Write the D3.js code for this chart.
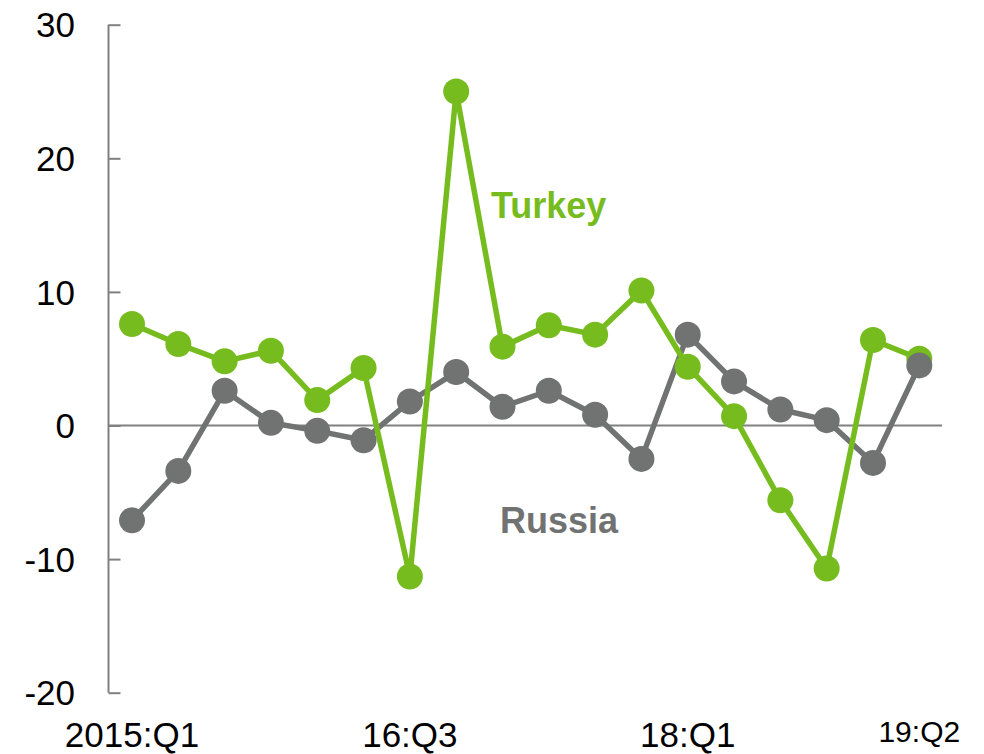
<!DOCTYPE html>
<html>
<head>
<meta charset="utf-8">
<script src="https://cdn.jsdelivr.net/npm/d3@7"></script>
<style>
  html, body { margin: 0; padding: 0; background: #fff; }
  svg { display: block; }
  text { font-family: "Liberation Sans", Arial, Helvetica, sans-serif; }
</style>
</head>
<body>
<svg id="chart" width="984" height="754"></svg>
<script>
// Quarterly series, 2015:Q1 to 2019:Q2
const quarters = [
  "2015:Q1","15:Q2","15:Q3","15:Q4",
  "16:Q1","16:Q2","16:Q3","16:Q4",
  "17:Q1","17:Q2","17:Q3","17:Q4",
  "18:Q1","18:Q2","18:Q3","18:Q4",
  "19:Q1","19:Q2"
];
const turkey = [7.6, 6.1, 4.8, 5.6, 1.9, 4.3, -11.3, 25.0, 5.9, 7.5, 6.8, 10.1, 4.4, 0.7, -5.6, -10.7, 6.4, 5.0];
const russia = [-7.1, -3.4, 2.6, 0.2, -0.4, -1.1, 1.8, 4.0, 1.4, 2.6, 0.8, -2.5, 6.8, 3.3, 1.2, 0.4, -2.8, 4.5];
const yTicks = [-20, -10, 0, 10, 20, 30];
const xLabels = ["2015:Q1", "16:Q3", "18:Q1", "19:Q2"];

const GREEN = "#77bc1f";
const GREY = "#717372";
const AXIS = "#808080";

const svg = d3.select("#chart");

const x = d3.scalePoint().domain(quarters).range([132, 919.3]);
const y = d3.scaleLinear().domain([-20, 30]).range([692.7, 24.7]);
const axisX = 108.5;

// Y axis with inward ticks
const yAxis = d3.axisRight(y).tickValues(yTicks).tickSize(12).tickFormat("");
const gy = svg.append("g").attr("transform", `translate(${axisX},0)`).call(yAxis);
gy.select(".domain").remove();
gy.selectAll(".tick line").attr("stroke", AXIS).attr("stroke-width", 2);
svg.append("line")
  .attr("x1", axisX).attr("x2", axisX)
  .attr("y1", y(30)).attr("y2", y(-20))
  .attr("stroke", AXIS).attr("stroke-width", 2);

// Y tick labels
svg.append("g").selectAll("text").data(yTicks).join("text")
  .attr("x", 75)
  .attr("y", d => y(d))
  .attr("dy", "0.36em")
  .attr("text-anchor", "end")
  .attr("font-size", 35)
  .attr("fill", "#000")
  .text(d => d);

// Zero line
svg.append("line")
  .attr("x1", axisX).attr("x2", 942)
  .attr("y1", y(0)).attr("y2", y(0))
  .attr("stroke", AXIS).attr("stroke-width", 2);

// X labels
svg.append("g").selectAll("text").data(xLabels).join("text")
  .attr("x", d => x(d))
  .attr("y", d => d === "19:Q2" ? 742 : 747)
  .attr("text-anchor", "middle")
  .attr("font-size", d => d === "19:Q2" ? 30 : 35)
  .attr("fill", "#000")
  .text(d => d);

const line = d3.line().x((d, i) => x(quarters[i])).y(d => y(d));

// Lines
svg.append("path").datum(russia).attr("d", line)
  .attr("fill", "none").attr("stroke", GREY).attr("stroke-width", 5.5).attr("stroke-linejoin", "round");
svg.append("path").datum(turkey).attr("d", line)
  .attr("fill", "none").attr("stroke", GREEN).attr("stroke-width", 5.5).attr("stroke-linejoin", "round");

// Markers
svg.append("g").selectAll("circle").data(turkey).join("circle")
  .attr("cx", (d, i) => x(quarters[i])).attr("cy", d => y(d)).attr("r", 13)
  .attr("fill", GREEN);
svg.append("g").selectAll("circle").data(russia).join("circle")
  .attr("cx", (d, i) => x(quarters[i])).attr("cy", d => y(d)).attr("r", 13)
  .attr("fill", GREY);

// Series labels
svg.append("text").attr("x", 491).attr("y", 217.5)
  .attr("font-size", 36).attr("font-weight", "bold").attr("fill", GREEN).text("Turkey");
svg.append("text").attr("x", 500).attr("y", 532.5)
  .attr("font-size", 36).attr("font-weight", "bold").attr("fill", GREY).text("Russia");
</script>
</body>
</html>
